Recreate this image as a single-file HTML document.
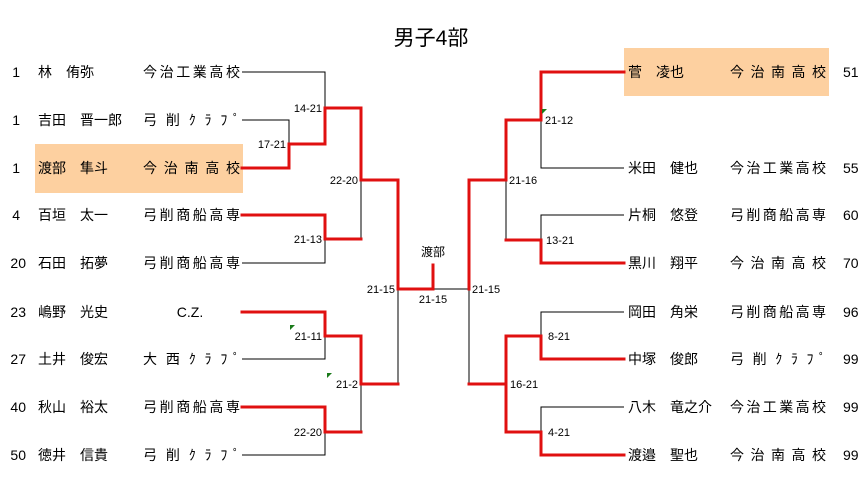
<!DOCTYPE html>
<html><head><meta charset="utf-8"><style>
html,body{margin:0;padding:0;background:#fff;}
svg{display:block;}
text{font-family:"Liberation Sans","Noto Sans CJK JP",sans-serif;fill:#000;}
.t{font-size:14px;}
.s{font-size:11px;}
.k{stroke:#000;stroke-width:1;fill:none;}
.r{stroke:#e01010;stroke-width:3;fill:none;stroke-linejoin:miter;stroke-linecap:square;}
</style></head><body>
<svg width="861" height="481" viewBox="0 0 861 481" xmlns="http://www.w3.org/2000/svg">
<rect x="35" y="144" width="208" height="49" fill="#fdd0a0"/>
<rect x="624" y="48" width="205" height="48" fill="#fdd0a0"/>
<text x="431" y="45" font-size="21" text-anchor="middle">男子4部</text>

<!-- left texts -->
<g class="t">
<text x="20" y="77" text-anchor="end">1</text><text x="38" y="77">林　侑弥</text><text x="143" y="77" textLength="97" lengthAdjust="spacing">今治工業高校</text>
<text x="20" y="125" text-anchor="end">1</text><text x="38" y="125">吉田　晋一郎</text><text x="143" y="125" textLength="97" lengthAdjust="spacing">弓 削 ｸ ﾗ ﾌ ﾟ</text>
<text x="20" y="173" text-anchor="end">1</text><text x="38" y="173">渡部　隼斗</text><text x="143" y="173" textLength="97" lengthAdjust="spacing">今 治 南 高 校</text>
<text x="20" y="220" text-anchor="end">4</text><text x="38" y="220">百垣　太一</text><text x="143" y="220" textLength="97" lengthAdjust="spacing">弓削商船高専</text>
<text x="26" y="268" text-anchor="end">20</text><text x="38" y="268">石田　拓夢</text><text x="143" y="268" textLength="97" lengthAdjust="spacing">弓削商船高専</text>
<text x="26" y="317" text-anchor="end">23</text><text x="38" y="317">嶋野　光史</text><text x="190" y="317" text-anchor="middle">C.Z.</text>
<text x="26" y="364" text-anchor="end">27</text><text x="38" y="364">土井　俊宏</text><text x="143" y="364" textLength="97" lengthAdjust="spacing">大 西 ｸ ﾗ ﾌ ﾟ</text>
<text x="26" y="412" text-anchor="end">40</text><text x="38" y="412">秋山　裕太</text><text x="143" y="412" textLength="97" lengthAdjust="spacing">弓削商船高専</text>
<text x="26" y="460" text-anchor="end">50</text><text x="38" y="460">徳井　信貴</text><text x="143" y="460" textLength="97" lengthAdjust="spacing">弓 削 ｸ ﾗ ﾌ ﾟ</text>
</g>
<!-- right texts -->
<g class="t">
<text x="628" y="77">菅　凌也</text><text x="730" y="77" textLength="96" lengthAdjust="spacing">今 治 南 高 校</text><text x="843" y="77">51</text>
<text x="628" y="173">米田　健也</text><text x="730" y="173" textLength="96" lengthAdjust="spacing">今治工業高校</text><text x="843" y="173">55</text>
<text x="628" y="220">片桐　悠登</text><text x="730" y="220" textLength="96" lengthAdjust="spacing">弓削商船高専</text><text x="843" y="220">60</text>
<text x="628" y="268">黒川　翔平</text><text x="730" y="268" textLength="96" lengthAdjust="spacing">今 治 南 高 校</text><text x="843" y="268">70</text>
<text x="628" y="317">岡田　角栄</text><text x="730" y="317" textLength="96" lengthAdjust="spacing">弓削商船高専</text><text x="843" y="317">96</text>
<text x="628" y="364">中塚　俊郎</text><text x="730" y="364" textLength="96" lengthAdjust="spacing">弓 削 ｸ ﾗ ﾌ ﾟ</text><text x="843" y="364">99</text>
<text x="628" y="412">八木　竜之介</text><text x="730" y="412" textLength="96" lengthAdjust="spacing">今治工業高校</text><text x="843" y="412">99</text>
<text x="628" y="460">渡邉　聖也</text><text x="730" y="460" textLength="96" lengthAdjust="spacing">今 治 南 高 校</text><text x="843" y="460">99</text>
</g>

<!-- left black lines -->
<path class="k" d="M242 72H325V108 M242 120H289V144 M242 263H325V239 M361 239V180 M242 359H325V336 M398 384V289 M242 455H325V432 M361 432V384 M398 289H469 M469 289V384"/>
<!-- left red -->
<path class="r" d="M242 168H289V144H325V108H361V180H398V289H433V265"/>
<path class="r" d="M242 215H325V239H361"/>
<path class="r" d="M242 312H325V336H361V384H398"/>
<path class="r" d="M242 407H325V432H361"/>
<!-- right black -->
<path class="k" d="M624 168H541V120 M624 215H541V240 M506 240V180 M624 312H541V336 M624 407H541V432"/>
<!-- right red -->
<path class="r" d="M624 72H541V120H506V180H469V289"/>
<path class="r" d="M624 263H541V240H506"/>
<path class="r" d="M469 384H506V336H541V359H624"/>
<path class="r" d="M506 384V432H541V455H624"/>

<!-- scores -->
<g class="s">
<text x="322" y="112" text-anchor="end">14-21</text>
<text x="286" y="148" text-anchor="end">17-21</text>
<text x="358" y="184" text-anchor="end">22-20</text>
<text x="322" y="243" text-anchor="end">21-13</text>
<text x="395" y="293" text-anchor="end">21-15</text>
<text x="322" y="340" text-anchor="end">21-11</text>
<text x="358" y="388" text-anchor="end">21-2</text>
<text x="322" y="436" text-anchor="end">22-20</text>
<text x="433" y="256" text-anchor="middle" font-size="12">渡部</text>
<text x="433" y="303" text-anchor="middle">21-15</text>
<text x="472" y="293">21-15</text>
<text x="545" y="124">21-12</text>
<text x="509" y="184">21-16</text>
<text x="546" y="244">13-21</text>
<text x="548" y="340">8-21</text>
<text x="510" y="388">16-21</text>
<text x="548" y="436">4-21</text>
</g>
<path d="M290 325h5l-5 5z M327 373h5l-5 5z M542 109h5l-5 5z" fill="#1a7a1a"/>
</svg>
</body></html>
